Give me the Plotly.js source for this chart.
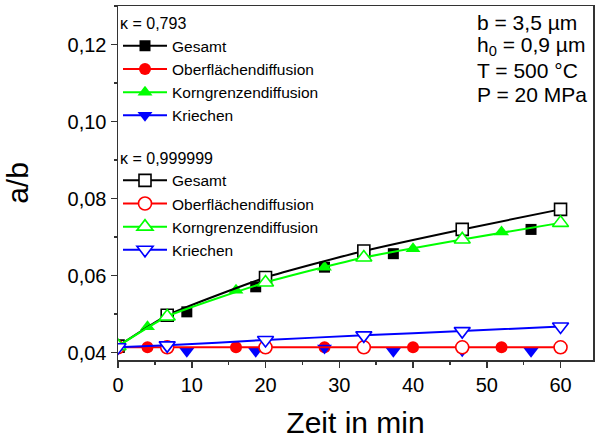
<!DOCTYPE html>
<html>
<head>
<meta charset="utf-8">
<script src="https://cdn.plot.ly/plotly-3.0.1.min.js"></script>
<style>html,body{margin:0;padding:0;background:#fff;}#chart{width:595px;height:439px;}</style>
</head>
<body>
<div id="chart"></div>
<script>
// κ = 0,999999 (open symbols, with lines)
const timeOpen = [0, 6.67, 20, 33.33, 46.67, 60];
const gesamtOpen = [0.0417, 0.0497, 0.0595, 0.0664, 0.0720, 0.0772];
const oberOpen = [0.0414, 0.0414, 0.0414, 0.0414, 0.0414, 0.0414];
const korngrenzOpen = [0.0417, 0.0494, 0.0582, 0.0647, 0.0694, 0.0737];
const kriechenOpen = [0.0414, 0.0419, 0.0433, 0.0445, 0.0456, 0.0468];

// κ = 0,793 (filled symbols, no lines)
const timeA = [0, 9.33, 18.67, 28, 37.33, 46.67, 56];
const gesamtFilled = [0.0415, 0.0506, 0.0571, 0.0622, 0.0657, 0.0720, 0.0720];
const kriechenFilled = [0.0414, 0.0404, 0.0404, 0.0412, 0.0404, 0.0405, 0.0404];
const timeB = [0, 4, 16, 28, 40, 52];
const oberFilled = [0.0414, 0.0414, 0.0414, 0.0414, 0.0414, 0.0414];
const korngrenzFilled = [0.0415, 0.0467, 0.0562, 0.0622, 0.0670, 0.0713];

const names = ['Gesamt', 'Oberflächendiffusion', 'Korngrenzendiffusion', 'Kriechen'];
const colors = ['#000000', '#ff0000', '#00ff00', '#0000ff'];
const filledSymbols = ['square', 'circle', 'triangle-up', 'triangle-down'];
const sizes = [11, 12, 13, 13];

const annoLines = ['b = 3,5 µm', 'h<sub>0</sub> = 0,9 µm', 'T = 500 °C', 'P = 20 MPa'];

const FONT = 'Liberation Sans, Arial, sans-serif';

const filledX = [timeA, timeB, timeB, timeA];
const filledY = [gesamtFilled, oberFilled, korngrenzFilled, kriechenFilled];
const openY = [gesamtOpen, oberOpen, korngrenzOpen, kriechenOpen];

const traces = [];
for (let i = 0; i < 4; i++) {
  traces.push({
    x: filledX[i], y: filledY[i], type: 'scatter', mode: 'markers',
    showlegend: false, cliponaxis: true,
    marker: {symbol: filledSymbols[i], size: sizes[i], color: colors[i], line: {width: 0}}
  });
}
for (let i = 0; i < 4; i++) {
  traces.push({
    x: timeOpen, y: openY[i], type: 'scatter', mode: 'lines+markers',
    name: names[i], legend: 'legend2', showlegend: true,
    line: {color: colors[i], width: 2, shape: 'spline', smoothing: 0.5},
    marker: {symbol: filledSymbols[i], size: sizes[i] + 1, color: '#ffffff', line: {color: colors[i], width: 1.6}}
  });
}
for (let i = 0; i < 4; i++) {
  traces.push({
    x: [null], y: [null], type: 'scatter', mode: 'lines+markers',
    name: names[i], legend: 'legend', showlegend: true,
    line: {color: colors[i], width: 2},
    marker: {symbol: filledSymbols[i], size: sizes[i], color: colors[i]}
  });
}

const annotations = annoLines.map((t, k) => ({
  text: t, xref: 'paper', yref: 'paper', x: 0.7516, y: [0.953, 0.888, 0.817, 0.751][k],
  xanchor: 'left', yanchor: 'middle', showarrow: false,
  font: {family: FONT, size: 21, color: '#000'}
}));

const legendBase = {
  xanchor: 'left', yanchor: 'top', x: 0.0, bgcolor: 'rgba(0,0,0,0)', borderwidth: 0,
  font: {family: FONT, size: 15.5, color: '#000'}, itemwidth: 44, tracegroupgap: 0
};

const layout = {
  width: 595, height: 439,
  margin: {l: 118, r: 2, t: 6, b: 79},
  paper_bgcolor: '#fff', plot_bgcolor: '#fff',
  separators: ',.',
  font: {family: FONT, color: '#000'},
  showlegend: true,
  legend: Object.assign({}, legendBase, {y: 0.993, title: {text: 'κ = 0,793', font: {family: FONT, size: 16}}}),
  legend2: Object.assign({}, legendBase, {y: 0.613, title: {text: 'κ = 0,999999', font: {family: FONT, size: 16}}}),
  xaxis: {
    range: [0, 64.4], tick0: 0, dtick: 10, ticks: 'outside', ticklen: 6, tickwidth: 1.5, tickcolor: '#333',
    minor: {dtick: 5, ticks: 'outside', ticklen: 3, tickwidth: 1.5, tickcolor: '#333'},
    showline: true, linewidth: 1.5, linecolor: '#333', mirror: true,
    showgrid: false, zeroline: false,
    tickfont: {family: FONT, size: 20, color: '#000'},
    title: {text: 'Zeit in min', font: {family: FONT, size: 30, color: '#000'}, standoff: 18}
  },
  yaxis: {
    range: [0.0381, 0.13], tick0: 0.04, dtick: 0.02, tickformat: '.2f',
    ticks: 'outside', ticklen: 6, tickwidth: 1.5, tickcolor: '#333',
    minor: {dtick: 0.01, ticks: 'outside', ticklen: 3, tickwidth: 1.5, tickcolor: '#333'},
    showline: true, linewidth: 1.5, linecolor: '#333', mirror: true,
    showgrid: false, zeroline: false,
    tickfont: {family: FONT, size: 20, color: '#000'},
    title: {text: 'a/b', font: {family: FONT, size: 30, color: '#000'}, standoff: 30}
  },
  annotations: annotations
};

Plotly.newPlot('chart', traces, layout, {displayModeBar: false, staticPlot: true});
</script>
</body>
</html>
